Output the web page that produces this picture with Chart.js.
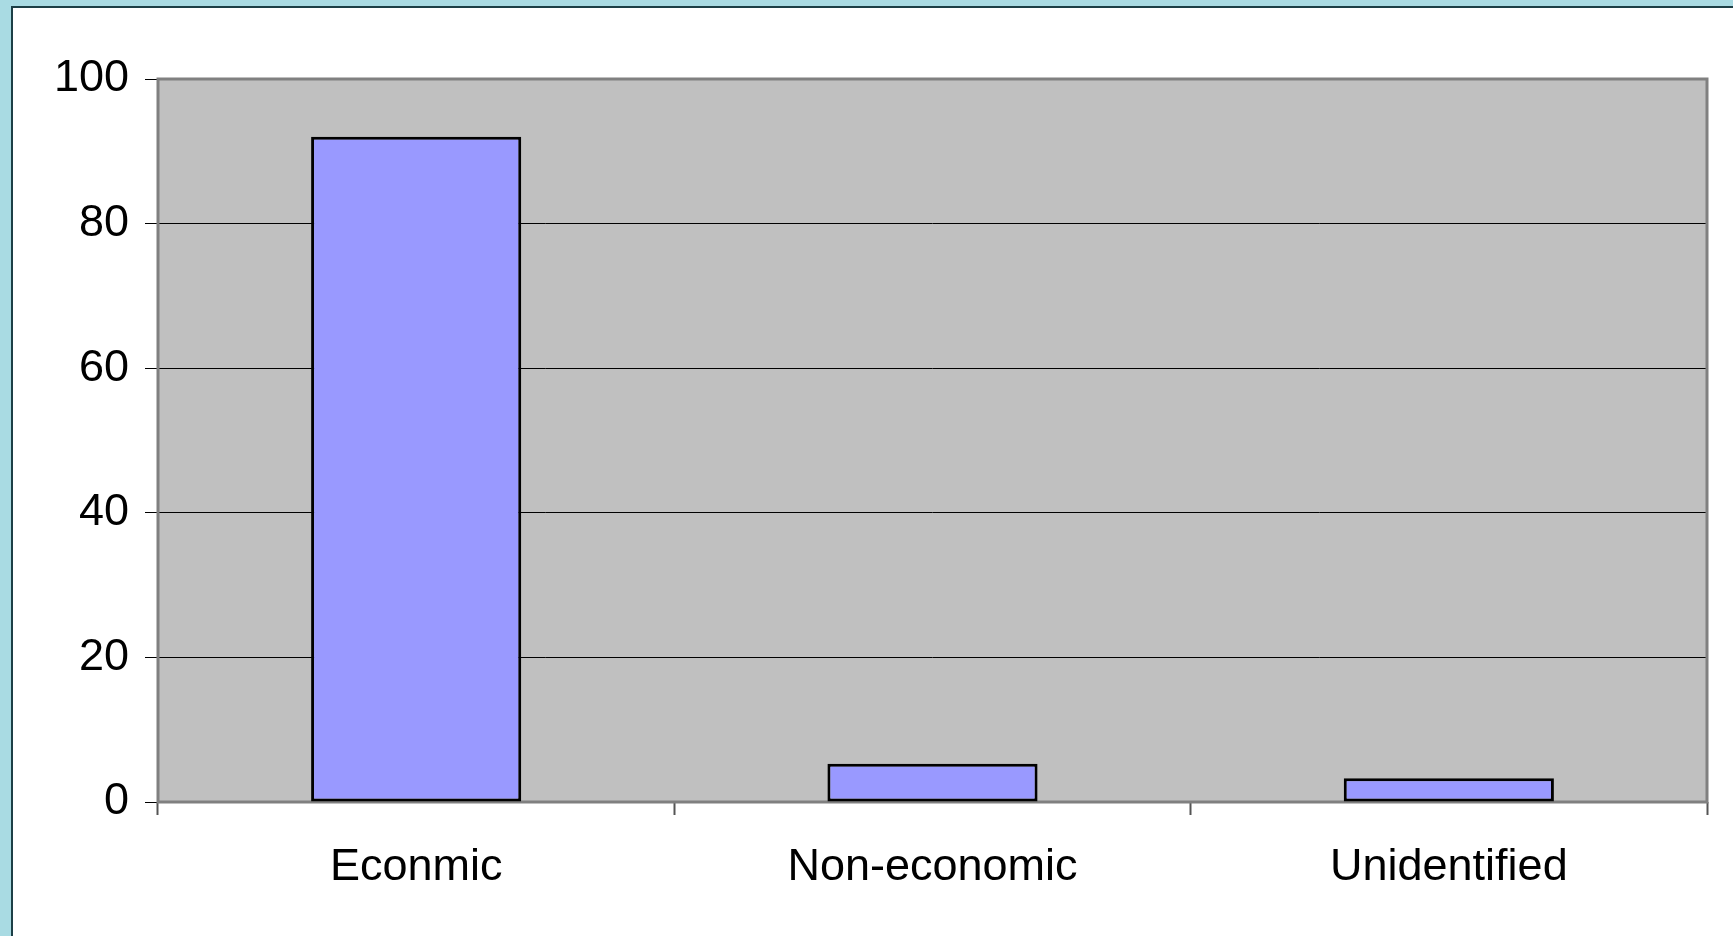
<!DOCTYPE html>
<html>
<head>
<meta charset="utf-8">
<script src="https://cdn.jsdelivr.net/npm/chart.js@4"></script>
<style>
  html, body {
    margin: 0;
    padding: 0;
    width: 1733px;
    height: 936px;
    overflow: hidden;
    background: #a9dbe3;
  }
  #panel {
    position: absolute;
    left: 11px;
    top: 6px;
    width: 1722px;
    height: 930px;
    background: #ffffff;
    border-left: 2px solid #1c3f46;
    border-top: 2px solid #1c3f46;
  }
  #barChart {
    display: block;
  }
</style>
</head>
<body>
<div id="panel">
  <canvas id="barChart" width="1720" height="928"></canvas>
</div>
<script>
const categories = ["Econmic", "Non-economic", "Unidentified"];
const values = [92, 5.3, 3.3];
const yTicks = [0, 20, 40, 60, 80, 100];

// grey plot area + frame, like the old office charts
const plotFrame = {
  id: "plotFrame",
  beforeDraw(chart) {
    const { ctx, chartArea: a } = chart;
    ctx.save();
    ctx.fillStyle = "#c0c0c0";
    ctx.fillRect(a.left, a.top, a.right - a.left, a.bottom - a.top);
    ctx.restore();
  },
  beforeDatasetsDraw(chart) {
    const { ctx, chartArea: a } = chart;
    ctx.save();
    ctx.strokeStyle = "#808080";
    ctx.lineWidth = 3;
    ctx.strokeRect(a.left, a.top, a.right - a.left, a.bottom - a.top);
    ctx.restore();
  },
};

const ctx = document.getElementById("barChart").getContext("2d");
Chart.defaults.font.family = "'Liberation Sans', Arial, sans-serif";
Chart.defaults.color = "#000000";

const myBarChart = new Chart(ctx, {
  type: "bar",
  data: {
    labels: categories,
    datasets: [
      {
        data: values,
        backgroundColor: "#9999ff",
        borderColor: "#000000",
        borderWidth: 3,
        borderSkipped: false,
        barPercentage: 0.407,
        categoryPercentage: 1,
      },
    ],
  },
  options: {
    responsive: false,
    animation: false,
    events: [],
    layout: {
      padding: { top: 71, right: 26, left: 0, bottom: 0 },
    },
    plugins: {
      legend: { display: false },
      tooltip: { enabled: false },
    },
    scales: {
      x: {
        border: { display: false },
        grid: {
          offset: true,
          drawOnChartArea: false,
          drawTicks: true,
          tickLength: 13,
          tickColor: "#555555",
          tickWidth: 2,
        },
        ticks: {
          padding: 26,
          font: { size: 45 },
        },
        afterFit(scale) {
          scale.height = 134;
        },
      },
      y: {
        min: 0,
        max: 100,
        border: { display: false },
        grid: {
          color: "#000000",
          lineWidth: 1,
          tickLength: 13,
          tickColor: "#000000",
        },
        afterBuildTicks(scale) {
          scale.ticks = yTicks.map((v) => ({ value: v }));
        },
        ticks: {
          padding: 16,
          font: { size: 45 },
        },
        afterFit(scale) {
          scale.width = 145;
        },
      },
    },
  },
  plugins: [plotFrame],
});
</script>
</body>
</html>
